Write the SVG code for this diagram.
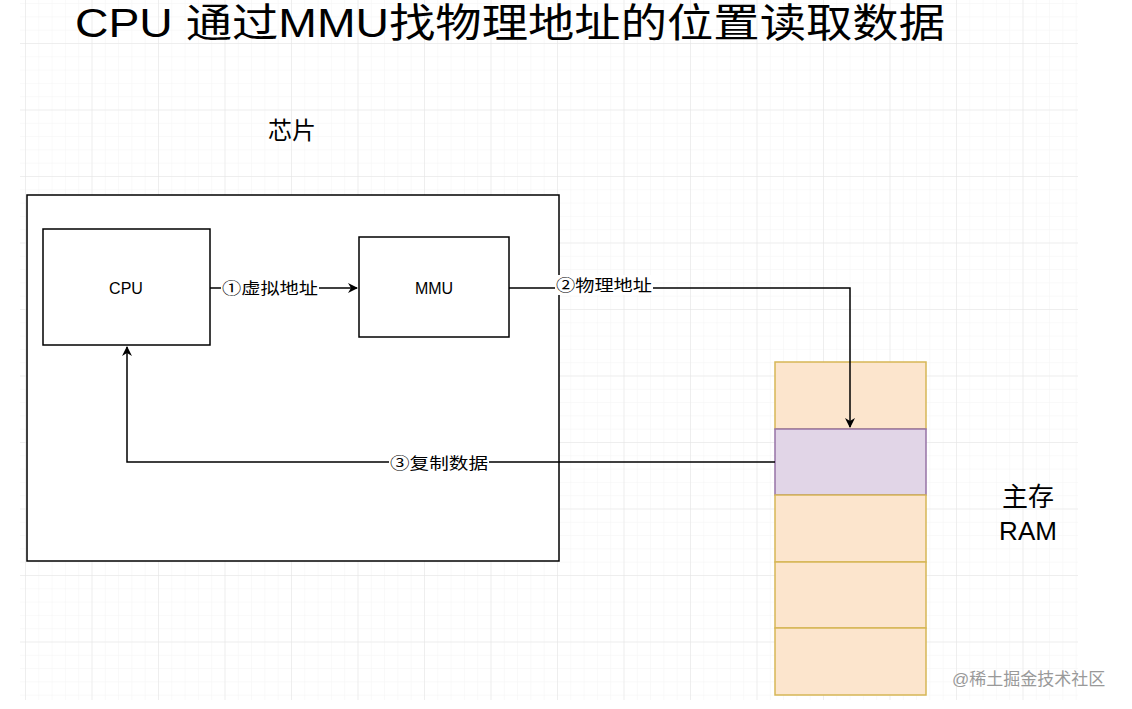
<svg xmlns="http://www.w3.org/2000/svg" width="1132" height="709" viewBox="0 0 1132 709">
<defs>
<pattern id="minor" x="25" y="43" width="13.3" height="13.3" patternUnits="userSpaceOnUse"><path d="M0 0H13.3M0 0V13.3" fill="none" stroke="#f3f3f3" stroke-width="1"/></pattern>
<pattern id="major" x="25" y="43" width="66.5" height="66.5" patternUnits="userSpaceOnUse"><path d="M0 0H66.5M0 0V66.5" fill="none" stroke="#e3e3e3" stroke-width="1"/></pattern>
<marker id="arr" markerWidth="10" markerHeight="10" refX="9" refY="5" orient="auto" markerUnits="userSpaceOnUse"><path d="M0 0L10 5L0 10L3 5Z" fill="#000"/></marker>
</defs>
<style>
text{font-family:"Liberation Sans","Noto Sans CJK SC",sans-serif;fill:#000}
.box{fill:#fff;stroke:#000;stroke-width:1.5}
.cell{fill:#fce5cd;stroke:#d6b656;stroke-width:1.5}
.ln{fill:none;stroke:#000;stroke-width:1.5}
.lbl{font-size:16px;text-anchor:middle}
</style>
<rect width="1132" height="709" fill="#fff"/>
<rect x="20" y="0" width="1058" height="700" fill="url(#minor)"/>
<rect x="20" y="0" width="1058" height="700" fill="url(#major)"/>
<text x="75" y="37" font-size="40" textLength="870" lengthAdjust="spacingAndGlyphs">CPU 通过MMU找物理地址的位置读取数据</text>
<text x="268" y="139" font-size="24">芯片</text>
<g id="chip"><rect class="box" x="27" y="195" width="532" height="366"/></g>
<g id="cpu"><rect class="box" x="43" y="229" width="167" height="116"/><text class="lbl" x="126" y="294">CPU</text></g>
<g id="mmu"><rect class="box" x="359" y="237" width="150" height="100"/><text class="lbl" x="434" y="294">MMU</text></g>
<g id="ram">
<rect class="cell" x="775" y="362" width="151" height="67"/>
<rect x="775" y="429" width="151" height="66" fill="#e1d5e7" stroke="#9673a6" stroke-width="1.5"/>
<rect class="cell" x="775" y="495" width="151" height="67"/>
<rect class="cell" x="775" y="562" width="151" height="66"/>
<rect class="cell" x="775" y="628" width="151" height="67"/>
</g>
<text x="1028" y="506" font-size="26" text-anchor="middle">主存</text>
<text x="1028" y="540" font-size="26" text-anchor="middle">RAM</text>
<g id="connectors">
<path class="ln" d="M210 288H357" marker-end="url(#arr)"/>
<path class="ln" d="M509 288H850V427" marker-end="url(#arr)"/>
<path class="ln" d="M775 462H127V347" marker-end="url(#arr)"/>
<rect x="221" y="278" width="98" height="20" fill="#fff"/>
<text class="lbl" x="270" y="294" textLength="96" lengthAdjust="spacingAndGlyphs">①虚拟地址</text>
<rect x="555" y="275" width="98" height="20" fill="#fff"/>
<text class="lbl" x="604" y="291" textLength="96" lengthAdjust="spacingAndGlyphs">②物理地址</text>
<rect x="389" y="453" width="100" height="20" fill="#fff"/>
<text class="lbl" x="439" y="469" textLength="98" lengthAdjust="spacingAndGlyphs">③复制数据</text>
</g>
<text x="952" y="685" font-size="17" style="fill:#999">@稀土掘金技术社区</text>
</svg>
